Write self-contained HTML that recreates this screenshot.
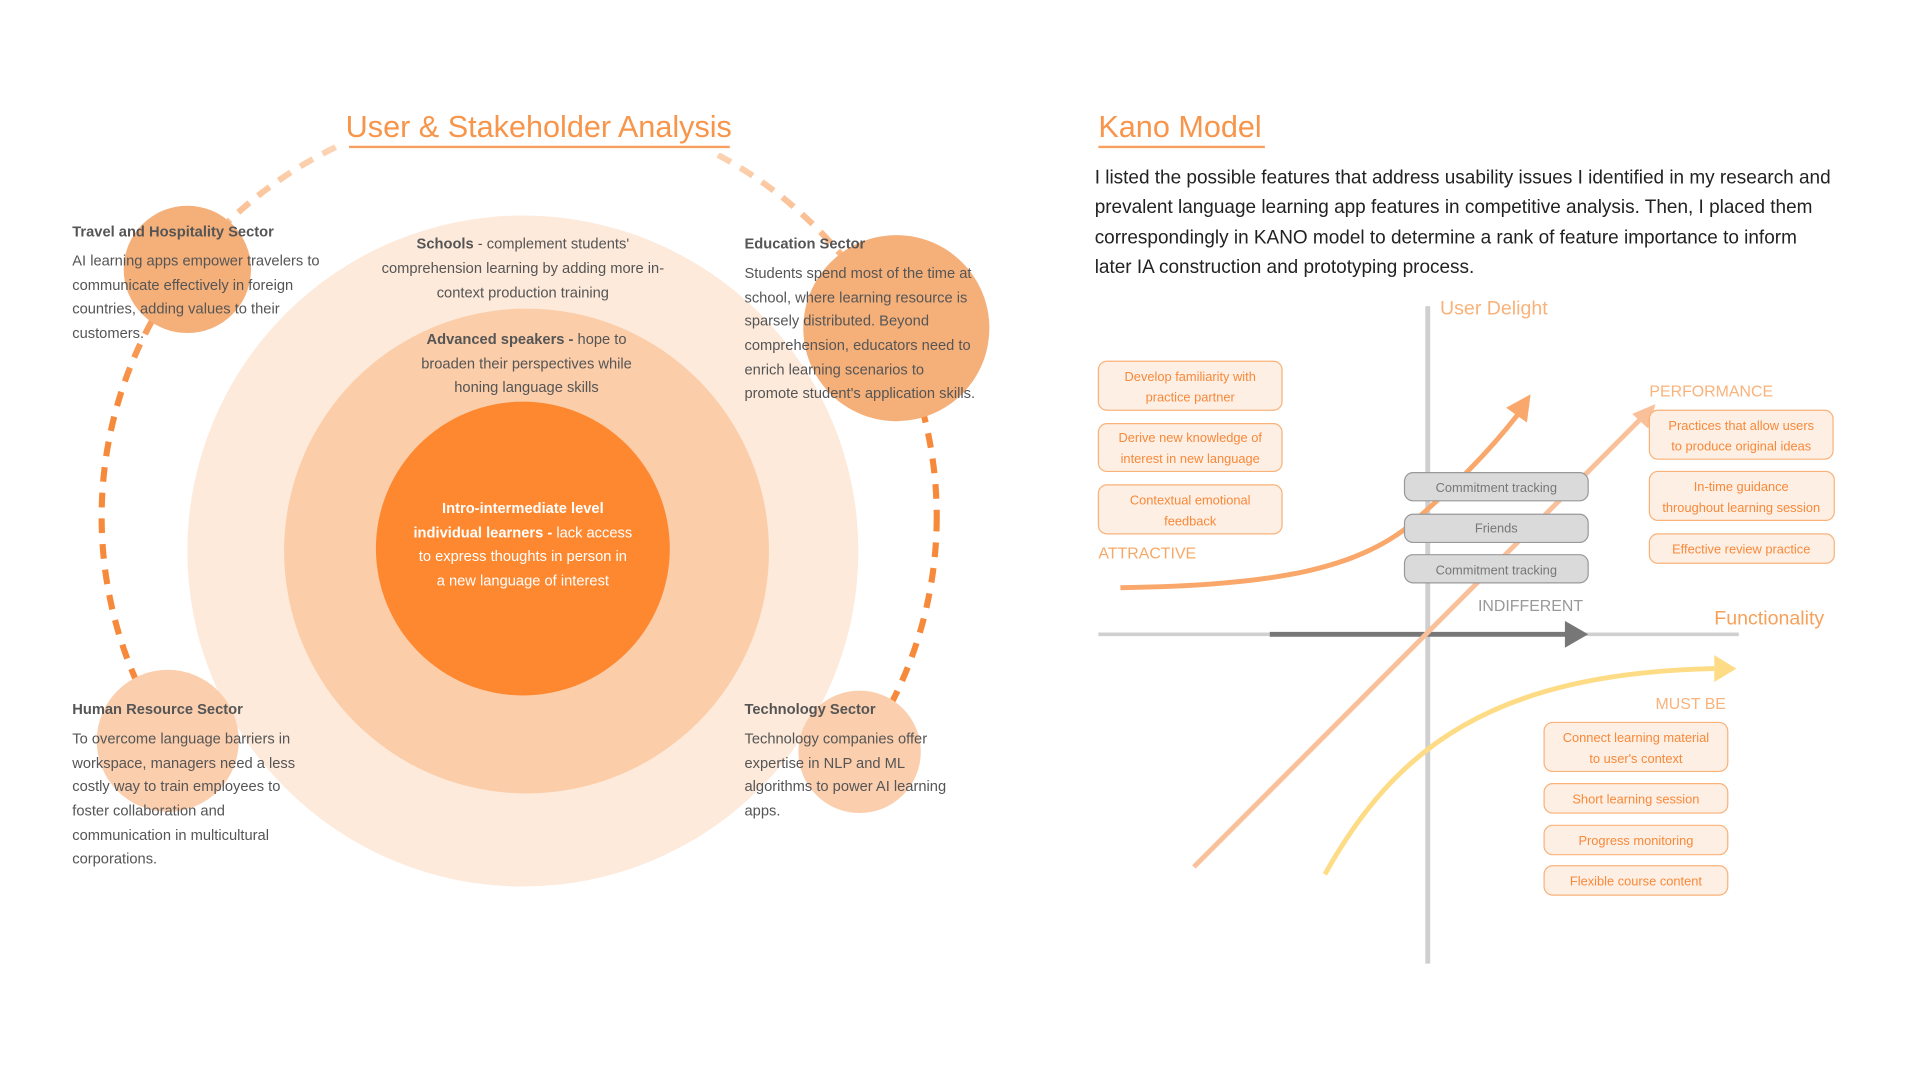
<!DOCTYPE html>
<html><head><meta charset="utf-8"><style>
html,body{margin:0;padding:0;background:#fff;}
svg{display:block;font-family:"Liberation Sans",sans-serif;}
</style></head><body>
<svg width="1920" height="1080" viewBox="0 0 1568 882">
<defs>
<linearGradient id="dg" gradientUnits="userSpaceOnUse" x1="0" y1="80" x2="0" y2="330">
<stop offset="0" stop-color="#fde3cd"/><stop offset="1" stop-color="#f7893a"/></linearGradient>
<clipPath id="orbitclip">
<rect x="0" y="0" width="150" height="556"/>
<rect x="150" y="0" width="500" height="200"/>
<rect x="650" y="0" width="300" height="582"/>
</clipPath>
</defs>
<!-- LEFT -->
<g>
<ellipse cx="424" cy="422" rx="341" ry="336" fill="none" stroke="url(#dg)" stroke-width="5" stroke-dasharray="12,9" clip-path="url(#orbitclip)"/>
<rect x="280" y="80" width="325" height="45" fill="#fff"/>
<text x="440" y="112" text-anchor="middle" font-size="25" fill="#f7954a">User &amp; Stakeholder Analysis</text>
<line x1="285" y1="120" x2="596" y2="120" stroke="#f7a060" stroke-width="2"/>
<circle cx="427" cy="450" r="274" fill="#fdeadb"/>
<circle cx="430" cy="450" r="198" fill="#fbcda9"/>
<circle cx="427" cy="448" r="120" fill="#fd8830"/>
<circle cx="153" cy="220" r="52" fill="#f5b07a"/>
<circle cx="732" cy="268" r="76" fill="#f5b07a"/>
<circle cx="137" cy="605" r="58" fill="#fbcfae"/>
<circle cx="702" cy="614" r="50" fill="#fbcfae"/>
<g font-size="12" fill="#555">
<g>
<text x="59" y="193" font-weight="bold">Travel and Hospitality Sector</text>
<text x="59" y="217">AI learning apps empower travelers to</text>
<text x="59" y="237">communicate effectively in foreign</text>
<text x="59" y="256">countries, adding values to their</text>
<text x="59" y="276">customers.</text></g>
<g>
<text x="608" y="203" font-weight="bold">Education Sector</text>
<text x="608" y="227">Students spend most of the time at</text>
<text x="608" y="247">school, where learning resource is</text>
<text x="608" y="266">sparsely distributed. Beyond</text>
<text x="608" y="286">comprehension, educators need to</text>
<text x="608" y="306">enrich learning scenarios to</text>
<text x="608" y="325">promote student's application skills.</text></g>
<g>
<text x="59" y="583" font-weight="bold">Human Resource Sector</text>
<text x="59" y="607">To overcome language barriers in</text>
<text x="59" y="627">workspace, managers need a less</text>
<text x="59" y="646">costly way to train employees to</text>
<text x="59" y="666">foster collaboration and</text>
<text x="59" y="686">communication in multicultural</text>
<text x="59" y="705">corporations.</text></g>
<g>
<text x="608" y="583" font-weight="bold">Technology Sector</text>
<text x="608" y="607">Technology companies offer</text>
<text x="608" y="627">expertise in NLP and ML</text>
<text x="608" y="646">algorithms to power AI learning</text>
<text x="608" y="666">apps.</text></g>
<g text-anchor="middle">
<g>
<text x="427" y="203"><tspan font-weight="bold">Schools</tspan> - complement students'</text>
<text x="427" y="223">comprehension learning by adding more in-</text>
<text x="427" y="243">context production training</text></g>
<g>
<text x="430" y="281"><tspan font-weight="bold">Advanced speakers -</tspan> hope to</text>
<text x="430" y="301">broaden their perspectives while</text>
<text x="430" y="320">honing language skills</text></g>
<g fill="#fff">
<text x="427" y="419" font-weight="bold">Intro-intermediate level</text>
<text x="427" y="439"><tspan font-weight="bold">individual learners -</tspan> lack access</text>
<text x="427" y="458">to express thoughts in person in</text>
<text x="427" y="478">a new language of interest</text></g>
</g></g></g>
<!-- RIGHT -->
<g>
<text x="897" y="112" font-size="25" fill="#f7954a">Kano Model</text>
<line x1="897" y1="120" x2="1033" y2="120" stroke="#f7a060" stroke-width="2"/>
<g font-size="15.5" fill="#222">
<text x="894" y="150">I listed the possible features that address usability issues I identified in my research and</text>
<text x="894" y="174">prevalent language learning app features in competitive analysis. Then, I placed them</text>
<text x="894" y="199">correspondingly in KANO model to determine a rank of feature importance to inform</text>
<text x="894" y="223">later IA construction and prototyping process.</text></g>
<line x1="1166" y1="250" x2="1166" y2="787" stroke="#cfcfcf" stroke-width="4"/>
<line x1="897" y1="518" x2="1420" y2="518" stroke="#d0d0d0" stroke-width="3"/>
<line x1="1037" y1="518" x2="1280" y2="518" stroke="#777" stroke-width="4"/>
<polygon points="1278,507 1297,518 1278,529" fill="#777"/>
<path d="M915,480 C1020,478 1100,470 1150,430 C1190,395 1215,370 1240,338" fill="none" stroke="#f9a76a" stroke-width="4"/>
<polygon points="1250,322 1247,345 1230,333" fill="#f9a76a"/>
<line x1="975" y1="708" x2="1342" y2="340" stroke="#f9c09a" stroke-width="4"/>
<polygon points="1352,330 1346,350 1333,338" fill="#f9c09a"/>
<path d="M1082,714 C1140,610 1220,550 1400,546" fill="none" stroke="#fddc85" stroke-width="4"/>
<polygon points="1418,546 1400,535 1400,557" fill="#fddc85"/>
<text x="1176" y="257" font-size="16" fill="#f9b27a">User Delight</text>
<text x="1400" y="510" font-size="16" fill="#f7a05a">Functionality</text>
<text x="1207" y="499" font-size="13" fill="#999">INDIFFERENT</text>
<text x="897" y="456" font-size="13" fill="#f7a866">ATTRACTIVE</text>
<text x="1347" y="324" font-size="13" fill="#f9b27a">PERFORMANCE</text>
<text x="1352" y="579" font-size="13" fill="#f9b27a">MUST BE</text>
<g font-size="10.5" text-anchor="middle">
<g fill="#dadada" stroke="#999" stroke-width="1">
<rect x="1147" y="386" width="150" height="23" rx="7"/>
<rect x="1147" y="420" width="150" height="23" rx="7"/>
<rect x="1147" y="453" width="150" height="23" rx="7"/></g>
<g fill="#777">
<text x="1222" y="402">Commitment tracking</text>
<text x="1222" y="435">Friends</text>
<text x="1222" y="469">Commitment tracking</text></g>
<g fill="#fdefe4" stroke="#f9b27a" stroke-width="1">
<rect x="897" y="295" width="150" height="40" rx="7"/>
<rect x="897" y="346" width="150" height="39" rx="7"/>
<rect x="897" y="396" width="150" height="40" rx="7"/>
<rect x="1347" y="335" width="150" height="40" rx="7"/>
<rect x="1347" y="385" width="151" height="40" rx="7"/>
<rect x="1347" y="436" width="151" height="24" rx="7"/>
<rect x="1261" y="590" width="150" height="40" rx="7"/>
<rect x="1261" y="640" width="150" height="24" rx="7"/>
<rect x="1261" y="674" width="150" height="24" rx="7"/>
<rect x="1261" y="707" width="150" height="24" rx="7"/></g>
<g fill="#f7893a">
<text x="972" y="311">Develop familiarity with</text><text x="972" y="328">practice partner</text>
<text x="972" y="361">Derive new knowledge of</text><text x="972" y="378">interest in new language</text>
<text x="972" y="412">Contextual emotional</text><text x="972" y="429">feedback</text>
<text x="1422" y="351">Practices that allow users</text><text x="1422" y="368">to produce original ideas</text>
<text x="1422" y="401">In-time guidance</text><text x="1422" y="418">throughout learning session</text>
<text x="1422" y="452">Effective review practice</text>
<text x="1336" y="606">Connect learning material</text><text x="1336" y="623">to user's context</text>
<text x="1336" y="656">Short learning session</text>
<text x="1336" y="690">Progress monitoring</text>
<text x="1336" y="723">Flexible course content</text></g>
</g></g>
</svg>
</body></html>
